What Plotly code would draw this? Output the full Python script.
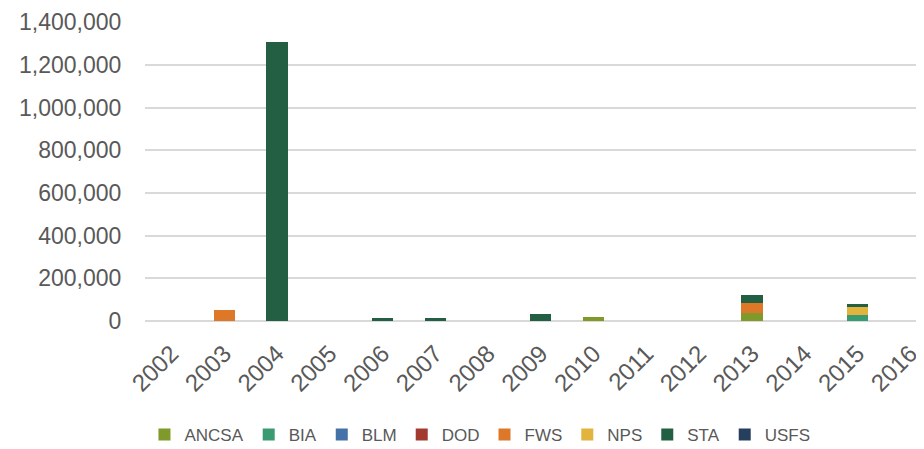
import plotly.graph_objects as go

years = [str(y) for y in range(2002, 2017)]
ancsa = [0, 0, 0, 0, 0, 0, 0, 0, 18000, 0, 0, 36000, 0, 0, 0]
bia   = [0, 0, 0, 0, 0, 0, 0, 0, 0, 0, 0, 0, 0, 28000, 0]
blm   = [0] * 15
dod   = [0] * 15
fws   = [0, 50000, 0, 0, 0, 0, 0, 0, 0, 0, 0, 47000, 0, 0, 0]
nps   = [0, 0, 0, 0, 0, 0, 0, 0, 0, 0, 0, 0, 0, 39000, 0]
sta   = [0, 0, 1305000, 0, 12000, 16000, 0, 33000, 0, 0, 0, 39000, 0, 12000, 0]
usfs  = [0] * 15

series = [
    ("ANCSA", ancsa, "#7f9a2a"),
    ("BIA", bia, "#3a9a72"),
    ("BLM", blm, "#4472a8"),
    ("DOD", dod, "#a33a30"),
    ("FWS", fws, "#dc7828"),
    ("NPS", nps, "#e2b43e"),
    ("STA", sta, "#235f43"),
    ("USFS", usfs, "#263f5e"),
]

fig = go.Figure()
for name, vals, col in series:
    fig.add_trace(go.Bar(x=years, y=vals, name=name, marker_color=col,
                         marker_line_width=0))

font_fam = "Liberation Sans, Arial, sans-serif"
fig.update_layout(
    width=916, height=441,
    margin=dict(l=137, r=0, t=14, b=128, autoexpand=False),
    barmode="stack", bargap=0.6,
    plot_bgcolor="white", paper_bgcolor="white",
    font=dict(family=font_fam, color="#595959"),
    showlegend=True,
    legend=dict(orientation="h", x=0.43, xanchor="center",
                y=-0.381, yanchor="middle", font=dict(size=17, color="#595959"),
                traceorder="normal", itemwidth=30),
    xaxis=dict(type="category", range=[-0.5, 14.26], tickangle=-45,
               tickfont=dict(size=24, color="#595959"), showgrid=False,
               showline=False, ticks="outside", ticklen=8,
               tickcolor="rgba(0,0,0,0)", dtick=1),
    yaxis=dict(range=[0, 1401000], dtick=200000, tickformat=",d",
               tickfont=dict(size=23, color="#595959"),
               gridcolor="#d9d9d9", gridwidth=1.5,
               zeroline=True, zerolinecolor="#d9d9d9", zerolinewidth=1.5,
               ticks="outside", ticklen=18, tickcolor="rgba(0,0,0,0)",
               showline=False),
)

fig.write_html("out.html")
